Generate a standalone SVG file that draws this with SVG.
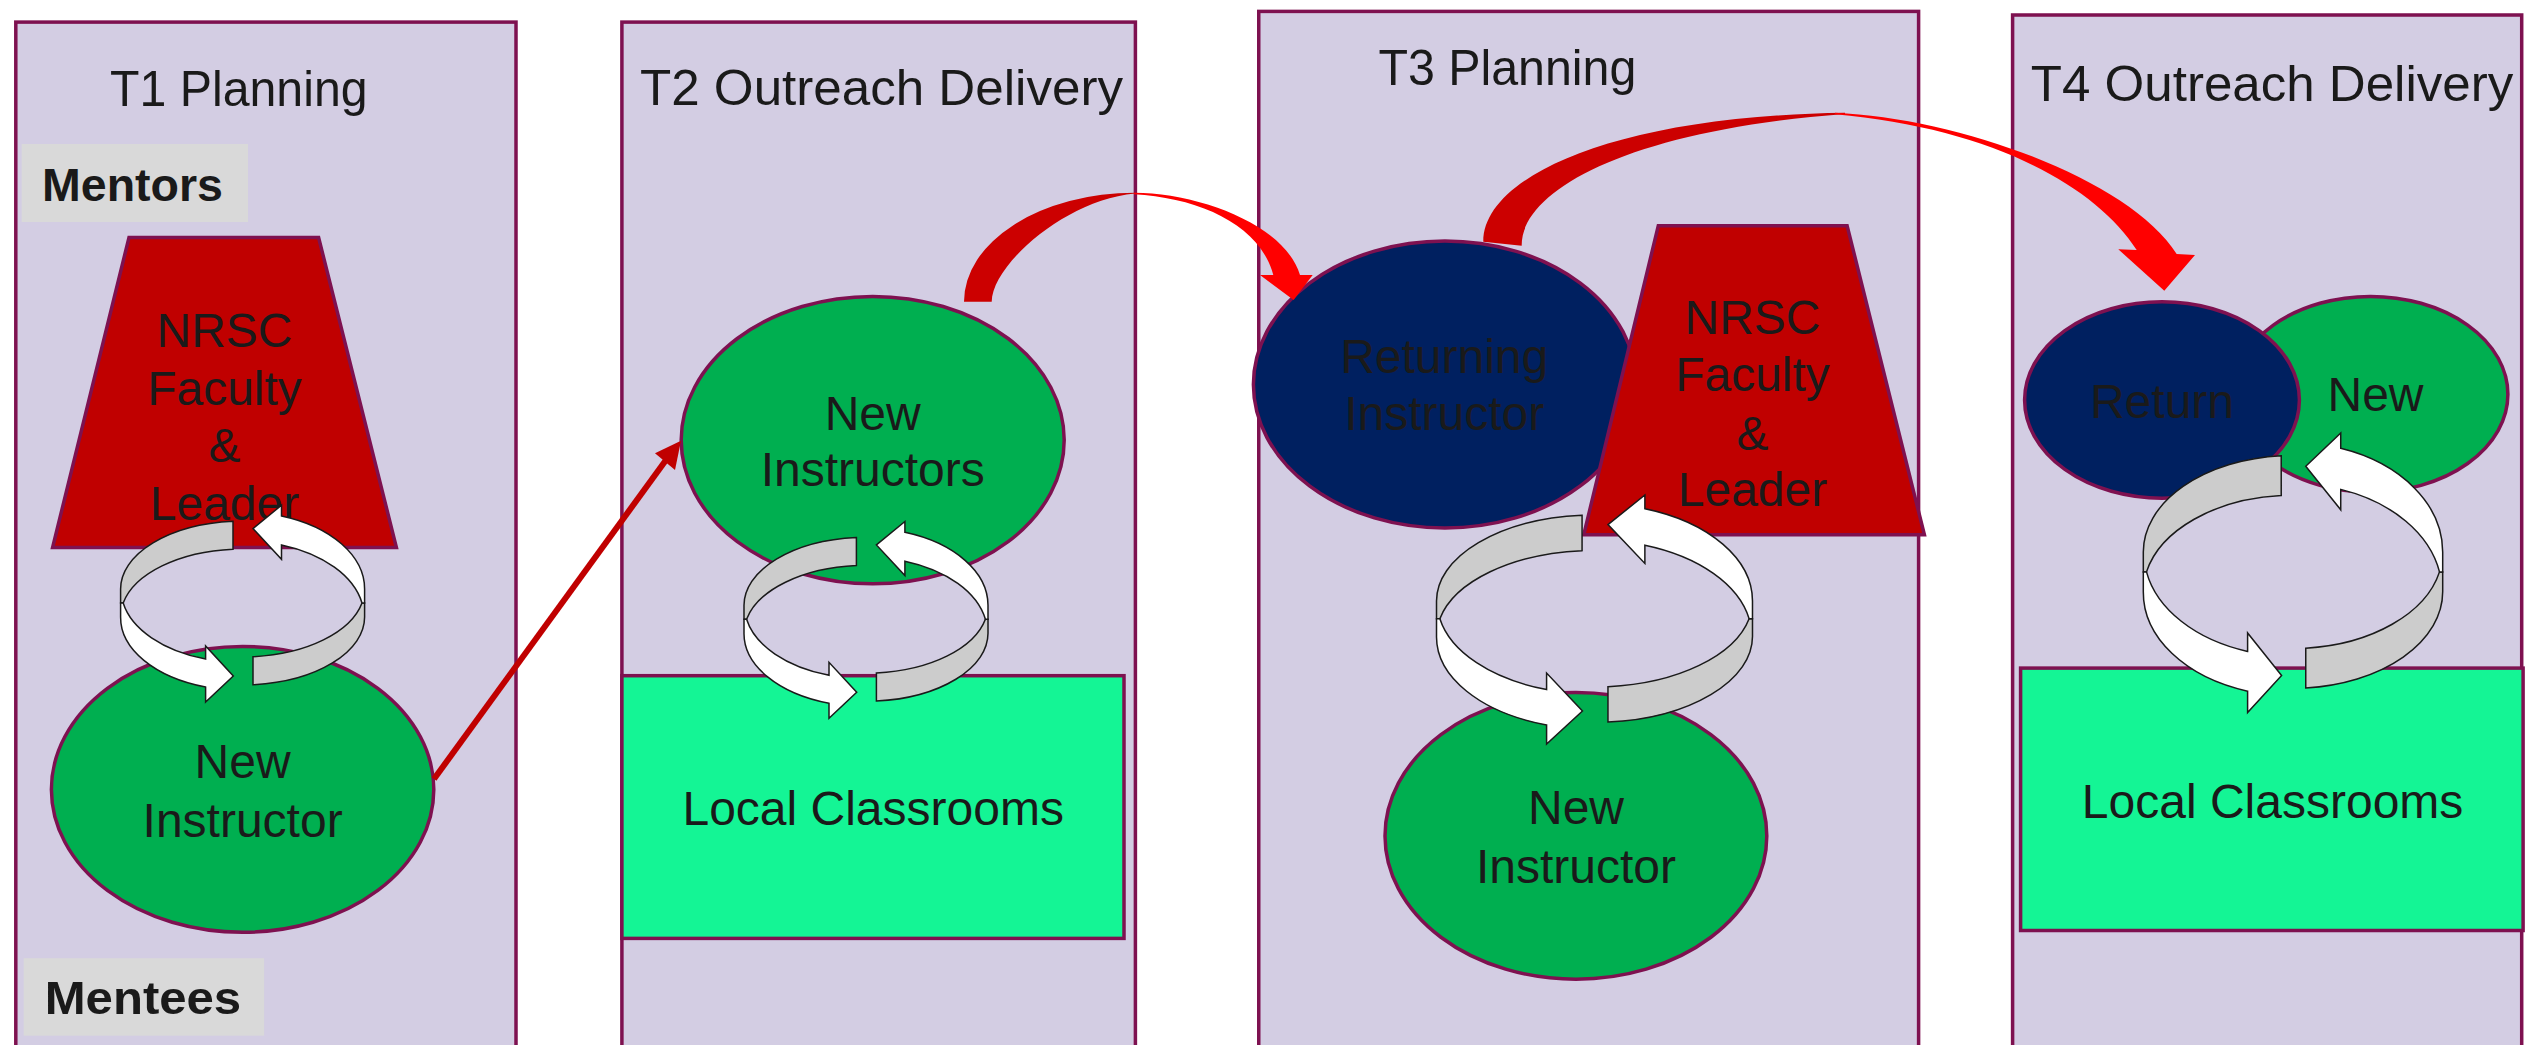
<svg xmlns="http://www.w3.org/2000/svg" width="2529" height="1045" viewBox="0 0 2529 1045">
  <style>
    .panel { fill: #D3CDE3; stroke: #7E1150; stroke-width: 3.5; }
    .shape { stroke: #7E1150; stroke-width: 3.5; }
    .green { fill: #00AF50; }
    .navy { fill: #002060; }
    .crimson { fill: #C00000; }
    .mint { fill: #14F595; }
    .tag { fill: #D9D9D9; }
    .title { font-family: "Liberation Sans", Arial, sans-serif; font-size: 50px; fill: #1A1A1A; }
    .lbl { font-family: "Liberation Sans", Arial, sans-serif; font-size: 48px; fill: #1A1A1A; text-anchor: middle; }
    .tagtxt { font-family: "Liberation Sans", Arial, sans-serif; font-size: 47px; font-weight: bold; fill: #1A1A1A; }
    .cy-g { fill: #CCCCCC; stroke: #1A1A1A; stroke-width: 1.5; vector-effect: non-scaling-stroke; stroke-linejoin: miter; }
    .cy-w { fill: #FFFFFF; stroke: #1A1A1A; stroke-width: 1.5; vector-effect: non-scaling-stroke; stroke-linejoin: miter; }
    .dark { fill: #CC0000; }
    .bright { fill: #FF0000; }
  </style>
  <defs>
    <!-- two-arrow mentoring cycle, drawn as a ring seen from above; origin = centre of the upper rim -->
    <g id="cycle">
      <!-- back (inner) face, upper left -->
      <path class="cy-g" d="M-9.6,-67.8 A122,68 0 0 0 -122,0 L-122,14 L-119.4,14 A122,68 0 0 1 -9.6,-39.8 Z"/>
      <!-- front face, lower left, ending in right-pointing head -->
      <path class="cy-w" d="M-122,14 L-122,28 A122,73 0 0 0 -37,98 L-37,113 L-9.3,87 L-37,57 L-37,70 A122,73 0 0 1 -119.4,14 Z"/>
      <!-- inner face, lower right -->
      <path class="cy-g" d="M10.4,67.7 A122,68 0 0 0 119.4,14 L122,14 L122,28 A122,68 0 0 1 10.4,95.7 Z"/>
      <!-- front face, upper right, ending in left-pointing head -->
      <path class="cy-w" d="M122,14 L122,0 A122,77 0 0 0 38.9,-73 L38.9,-83.8 L10.4,-60.4 L38.9,-29.7 L38.9,-44.1 A122,76 0 0 1 119.4,14 Z"/>
    </g>
  </defs>

  <rect width="2529" height="1045" fill="#FFFFFF"/>

  <!-- term columns -->
  <g id="panel-t1">
    <rect class="panel" x="15.8" y="22.1" width="500.2" height="1040"/>
    <text class="title" x="110" y="106.4" textLength="257.6" lengthAdjust="spacingAndGlyphs">T1 Planning</text>
  </g>
  <g id="panel-t2">
    <rect class="panel" x="621.9" y="22.1" width="513.5" height="1040"/>
    <text class="title" x="640" y="105.4" textLength="483" lengthAdjust="spacingAndGlyphs">T2 Outreach Delivery</text>
  </g>
  <g id="panel-t3">
    <rect class="panel" x="1258.75" y="11.4" width="659.85" height="1050"/>
    <text class="title" x="1378.4" y="84.6" textLength="258" lengthAdjust="spacingAndGlyphs">T3 Planning</text>
  </g>
  <g id="panel-t4">
    <rect class="panel" x="2012.6" y="15" width="509.1" height="1050"/>
    <text class="title" x="2030.8" y="101" textLength="482.5" lengthAdjust="spacingAndGlyphs">T4 Outreach Delivery</text>
  </g>

  <!-- row tags -->
  <g id="tag-mentors">
    <rect class="tag" x="21.7" y="144" width="226.3" height="78"/>
    <text class="tagtxt" x="42" y="201" textLength="181" lengthAdjust="spacingAndGlyphs">Mentors</text>
  </g>
  <g id="tag-mentees">
    <rect class="tag" x="23.7" y="958.2" width="240.4" height="77.5"/>
    <text class="tagtxt" x="44.7" y="1014.4" textLength="196.5" lengthAdjust="spacingAndGlyphs">Mentees</text>
  </g>

  <!-- T1 -->
  <g id="t1-faculty">
    <polygon class="shape crimson" points="129,237.5 318.6,237.5 396.4,547.5 52.6,547.5"/>
    <text class="lbl" x="224.5" y="347">NRSC</text>
    <text class="lbl" x="224.5" y="405">Faculty</text>
    <text class="lbl" x="224.5" y="462">&amp;</text>
    <text class="lbl" x="224.5" y="520">Leader</text>
  </g>
  <g id="t1-new-instructor">
    <ellipse class="shape green" cx="242.6" cy="789.4" rx="191.2" ry="142.9"/>
    <text class="lbl" x="242.6" y="777.7">New</text>
    <text class="lbl" x="242.6" y="836.8">Instructor</text>
  </g>

  <!-- T2 -->
  <g id="t2-new-instructors">
    <ellipse class="shape green" cx="872.7" cy="440.1" rx="191.5" ry="143.7"/>
    <text class="lbl" x="872.7" y="429.6">New</text>
    <text class="lbl" x="872.7" y="486.4">Instructors</text>
  </g>
  <g id="t2-classrooms">
    <rect class="shape mint" x="621.9" y="675.7" width="502.1" height="262.7"/>
    <text class="lbl" x="873.2" y="825.2">Local Classrooms</text>
  </g>

  <!-- T3 -->
  <g id="t3-returning-instructor">
    <ellipse class="shape navy" cx="1444.9" cy="384.5" rx="191.5" ry="143.5"/>
    <text class="lbl" x="1444.2" y="373.2">Returning</text>
    <text class="lbl" x="1444.2" y="430.4">Instructor</text>
  </g>
  <g id="t3-faculty">
    <polygon class="shape crimson" points="1658.3,225.7 1847.1,225.7 1924.4,534.8 1583.75,534.8"/>
    <text class="lbl" x="1752.5" y="334">NRSC</text>
    <text class="lbl" x="1752.5" y="391">Faculty</text>
    <text class="lbl" x="1752.5" y="450">&amp;</text>
    <text class="lbl" x="1752.5" y="506.4">Leader</text>
  </g>
  <g id="t3-new-instructor">
    <ellipse class="shape green" cx="1575.9" cy="835.9" rx="190.9" ry="143.3"/>
    <text class="lbl" x="1576" y="824.1">New</text>
    <text class="lbl" x="1576" y="882.5">Instructor</text>
  </g>

  <!-- T4 -->
  <g id="t4-new">
    <ellipse class="shape green" cx="2370.5" cy="394.3" rx="137.4" ry="97.9"/>
    <text class="lbl" x="2375.5" y="410.7">New</text>
  </g>
  <g id="t4-return">
    <ellipse class="shape navy" cx="2162" cy="400" rx="137.4" ry="98.2"/>
    <text class="lbl" x="2162" y="417.9">Return</text>
  </g>
  <g id="t4-classrooms">
    <rect class="shape mint" x="2020.6" y="668.1" width="502.5" height="262.4"/>
    <text class="lbl" x="2272.6" y="817.7">Local Classrooms</text>
  </g>

  <!-- connectors -->
  <g id="connectors">
    <!-- mentoring cycles -->
    <use href="#cycle" transform="translate(242.6,589)"/>
    <use href="#cycle" transform="translate(866,605.3)"/>
    <use href="#cycle" transform="translate(1594.5,601) scale(1.295,1.265)"/>
    <use href="#cycle" transform="translate(2293,552) scale(1.227,1.42)"/>

    <!-- T1 new instructor moves on to T2 -->
    <line x1="434" y1="779" x2="666" y2="460" stroke="#C00000" stroke-width="6"/>
    <polygon points="655,453.3 681,440.7 675,470" fill="#C00000"/>

    <!-- T2 instructors return in T3 -->
    <path class="dark" d="M964,301.7 A171,109 0 0 1 1135,192.7 L1135,193.5 C1065,200 992,265 991.7,301.7 Z"/>
    <path class="bright" d="M1134,192.7 C1200,193 1285,225 1300,275 L1312.7,275 L1293.6,300 L1260,275 L1273.3,275 C1260,225 1200,198 1134,194.3 Z"/>

    <!-- T3 returning instructor carries on to T4 -->
    <path class="dark" d="M1483.3,241.7 C1483,178 1610,116 1845,112.7 L1845,114 C1630,130 1521,190 1521.7,245.7 Z"/>
    <path class="bright" d="M1835,112.7 C1960,118 2130,180 2176.7,254 L2195,255 L2164.3,290.7 L2118.3,249.3 L2136.7,250 C2095,185 1990,128 1835,114.3 Z"/>
  </g>
</svg>
